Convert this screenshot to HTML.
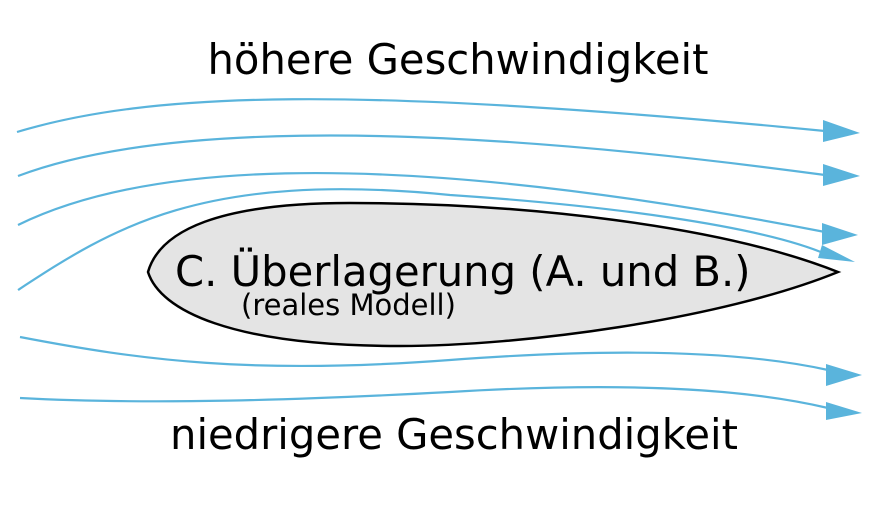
<!DOCTYPE html>
<html><head><meta charset="utf-8"><style>html,body{margin:0;padding:0;background:#fff}svg{display:block}</style></head>
<body>
<svg width="878" height="512" viewBox="0 0 878 512" xmlns="http://www.w3.org/2000/svg" font-family="DejaVu Sans, sans-serif">
<g fill="none" stroke="#5ab4dc" stroke-width="2.2">
<path d="M17,132 C150,92 350,85 825,131"/>
<path d="M18,176 C140,130 380,115 825,175"/>
<path d="M18,225 C130,170 350,140 825,232"/>
<path d="M18,290 C110,230 200,170 450,195 C600,205 760,225 828,255"/>
<path d="M20,337 C140,360 250,375 450,360 C650,345 760,355 828,370"/>
<path d="M20,398 C150,405 300,400 450,392 C650,380 760,392 828,408"/>
</g>
<g fill="#5ab4dc">
<polygon points="823,120 860,133 823,142"/>
<polygon points="823,164 860,176 823,186"/>
<polygon points="822,223 858,235 822,245"/>
<polygon points="822,245 855,262 818,258"/>
<polygon points="826,364 862,375 826,386"/>
<polygon points="826,402 862,413 826,420"/>
</g>
<path d="M148,272 C160,230 220,203 350,203 C520,203 720,225 838,272 C720,320 520,346 400,346 C230,346 160,310 148,272 Z" fill="#e4e4e4" stroke="#000" stroke-width="2.5"/>
<text x="458" y="74" font-size="41.7" text-anchor="middle">höhere Geschwindigkeit</text>
<text x="175" y="286" font-size="41.7">C. Überlagerung (A. und B.)</text>
<text x="241" y="315" font-size="29">(reales Modell)</text>
<text x="454" y="449" font-size="41.7" text-anchor="middle">niedrigere Geschwindigkeit</text>
</svg>
</body></html>
